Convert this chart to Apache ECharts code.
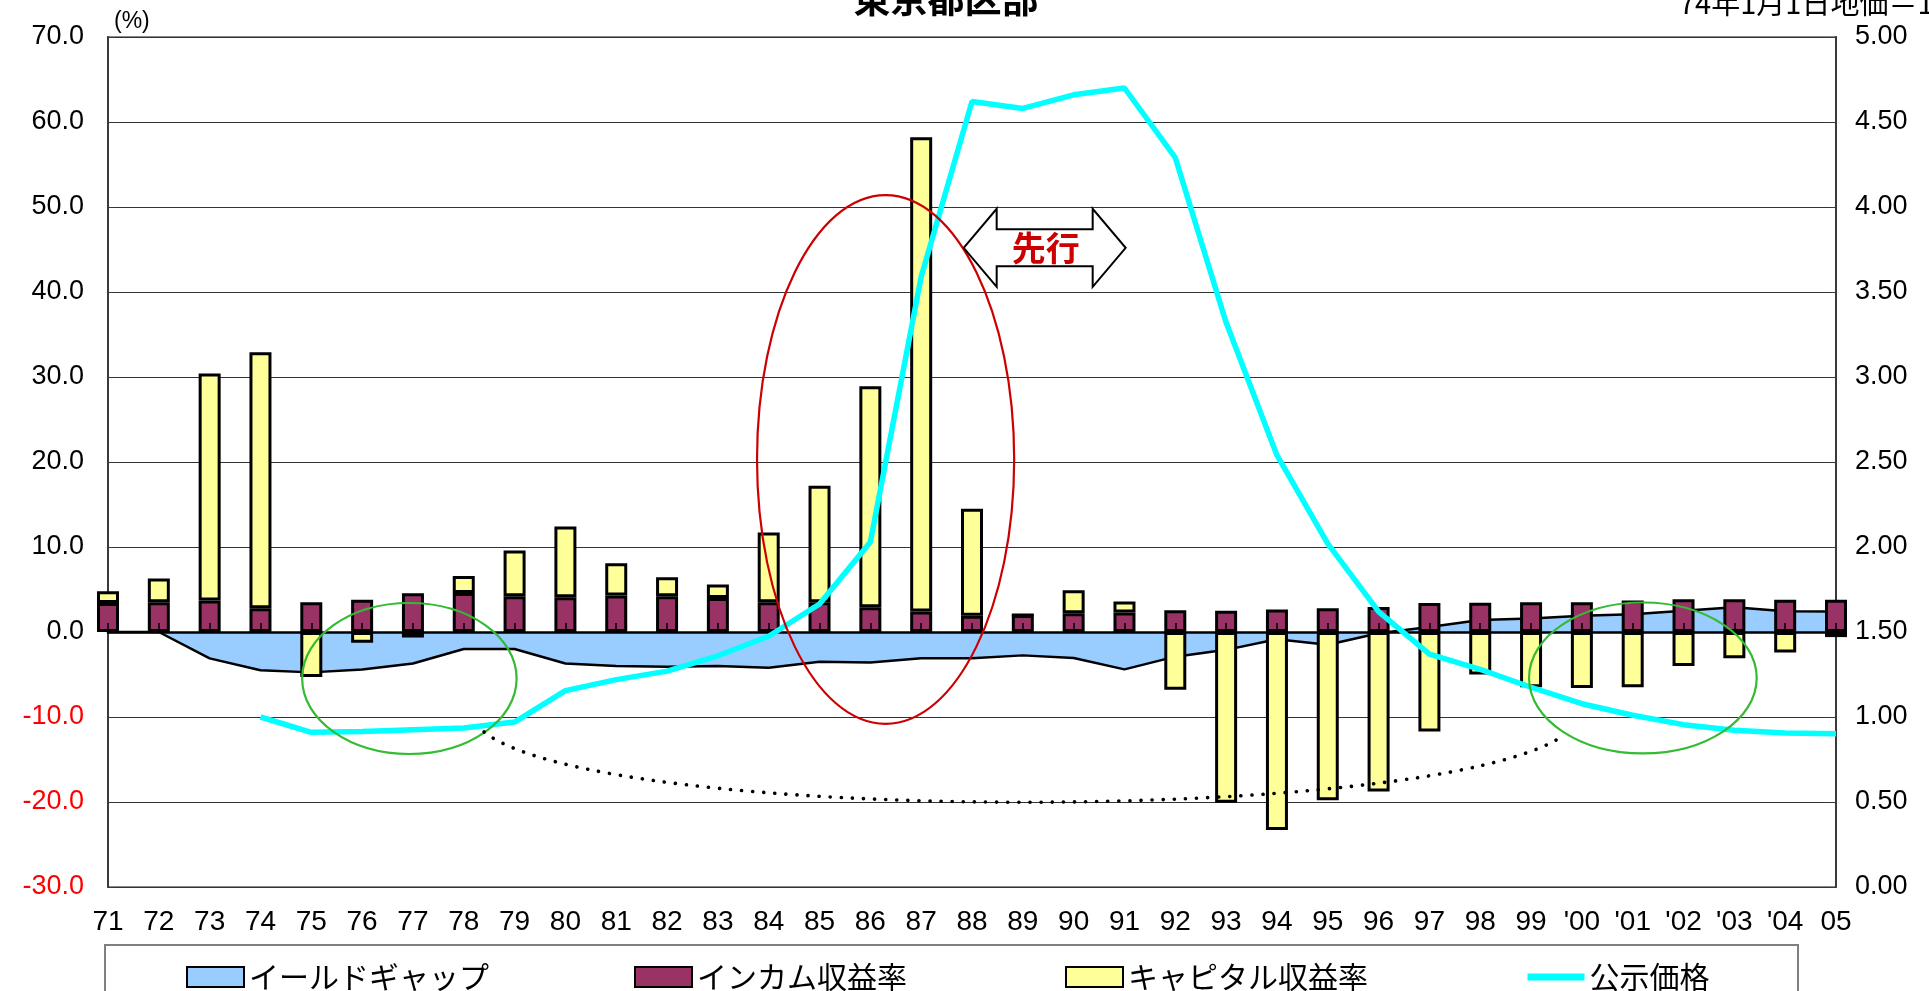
<!DOCTYPE html>
<html>
<head>
<meta charset="utf-8">
<title>東京都区部 イールドギャップと公示価格</title>
<script src="https://cdn.jsdelivr.net/npm/echarts@6/dist/echarts.min.js"></script>
<style>
  html, body { margin: 0; padding: 0; background: #ffffff; }
  #chart { width: 1929px; height: 991px; }
</style>
</head>
<body>
<div id="chart"></div>
<script>
// Years on the horizontal axis
const years = ['71','72','73','74','75','76','77','78','79','80',
               '81','82','83','84','85','86','87','88','89','90',
               '91','92','93','94','95','96','97','98','99',"'00",
               "'01","'02","'03","'04",'05'];

// Yield gap (%), drawn as a filled area on the left axis
const yieldGap = [0, 0, -3.1, -4.5, -4.75, -4.4, -3.7, -2.0, -2.0, -3.7,
                  -4.0, -4.1, -4.0, -4.2, -3.5, -3.6, -3.1, -3.1, -2.75, -3.05,
                  -4.4, -2.9, -2.1, -0.85, -1.5, -0.15, 0.6, 1.4, 1.6, 1.9,
                  2.1, 2.5, 2.9, 2.45, 2.4];

// Income return (%)
const incomeReturn = [3.4, 3.5, 3.7, 2.8, 3.5, 3.8, 4.55, 4.6, 4.2, 4.1,
                      4.3, 4.2, 4.0, 3.5, 3.5, 2.9, 2.4, 1.9, 2.0, 2.2,
                      2.3, 2.55, 2.5, 2.65, 2.8, 2.95, 3.4, 3.45, 3.5, 3.5,
                      3.7, 3.85, 3.85, 3.8, 3.8];

// Capital return (%)
const capitalReturn = [1.4, 2.8, 26.7, 30.1, -5.3, -1.25, -0.65, 2.0, 5.4, 8.3,
                       3.8, 2.25, 1.6, 8.2, 13.7, 26.0, 55.8, 12.6, 0, 2.7,
                       1.3, -6.8, -20.1, -23.3, -19.8, -18.75, -11.7, -5.0, -6.5, -6.6,
                       -6.5, -4.0, -3.1, -2.4, -0.6];

// Published land price index (1 Jan 1974 = 1), right axis
const landPriceIndex = [null, null, null, 1.00, 0.91, 0.915, 0.925, 0.935, 0.97, 1.155,
                        1.22, 1.27, 1.36, 1.475, 1.665, 2.03, 3.59, 4.62, 4.58, 4.66,
                        4.70, 4.29, 3.32, 2.54, 2.02, 1.62, 1.37, 1.28, 1.175, 1.078,
                        1.01, 0.955, 0.922, 0.906, 0.902];

// Axis ranges
const pctMin = -30, pctMax = 70, pctStep = 10;
const idxMin = 0, idxMax = 5, idxStep = 0.5;

const numFont = "'Liberation Sans Narrow', 'Liberation Sans', Arial, sans-serif";
const jpFont = "'Noto Sans CJK JP', 'Noto Sans CJK SC', sans-serif";

const chart = echarts.init(document.getElementById('chart'), null, { renderer: 'canvas' });

// One legend block per entry so each sits in its own column of the key box
function legendAt(left, entry) {
  return {
    left: left, top: 962, padding: 0,
    itemWidth: 57, itemHeight: 20, itemGap: 0,
    textStyle: { fontFamily: jpFont, fontSize: 30, color: '#000000', padding: [0, 0, 0, 0] },
    data: [entry]
  };
}

const option = {
  animation: false,
  backgroundColor: '#ffffff',
  grid: {
    left: 108, right: 93, top: 37, bottom: 104,
    show: true, borderColor: '#8a8a8a', borderWidth: 2, backgroundColor: 'transparent'
  },
  legend: [
    legendAt(186, { name: 'イールドギャップ', icon: 'rect',
                    itemStyle: { color: '#99CCFF', borderColor: '#000000', borderWidth: 2 } }),
    legendAt(634, { name: 'インカム収益率', icon: 'rect',
                    itemStyle: { color: '#993366', borderColor: '#000000', borderWidth: 2 } }),
    legendAt(1065, { name: 'キャピタル収益率', icon: 'rect',
                     itemStyle: { color: '#FFFF99', borderColor: '#000000', borderWidth: 2 } }),
    legendAt(1524, { name: '公示価格',
                     lineStyle: { color: '#00FFFF', width: 7 },
                     itemStyle: { color: 'rgba(0,0,0,0)', borderColor: 'rgba(0,0,0,0)', borderWidth: 0, opacity: 0 } })
  ],
  xAxis: [
    {
      type: 'category', data: years, boundaryGap: false, position: 'bottom',
      axisLine: { show: false, onZero: false },
      axisTick: { show: false },
      axisLabel: { interval: 0, margin: 21, fontSize: 28, fontFamily: numFont, color: '#000000' },
      splitLine: { show: false }
    },
    {
      type: 'category', data: years, boundaryGap: false, position: 'bottom', z: 3,
      axisLine: { show: true, onZero: true, onZeroAxisIndex: 0, lineStyle: { color: '#000000', width: 2.5 } },
      axisTick: { show: true, inside: true, length: 9, interval: 0, lineStyle: { color: '#000000', width: 1.5 } },
      axisLabel: { show: false },
      splitLine: { show: false }
    }
  ],
  yAxis: [
    {
      type: 'value', min: pctMin, max: pctMax, interval: pctStep, position: 'left',
      axisLine: { show: true, lineStyle: { color: '#3a3a3a', width: 2 } },
      axisTick: { show: true, inside: true, length: 6, lineStyle: { color: '#3a3a3a' } },
      axisLabel: {
        margin: 24, fontSize: 27, fontFamily: numFont,
        formatter: v => Number(v).toFixed(1),
        color: v => (Number(v) < 0 ? '#FF0000' : '#000000')
      },
      splitLine: { show: true, lineStyle: { color: '#333333', width: 1 } }
    },
    {
      type: 'value', min: idxMin, max: idxMax, interval: idxStep, position: 'right',
      axisLine: { show: true, lineStyle: { color: '#3a3a3a', width: 2 } },
      axisTick: { show: true, inside: true, length: 6, lineStyle: { color: '#3a3a3a' } },
      axisLabel: {
        margin: 19, fontSize: 27, fontFamily: numFont, color: '#000000',
        formatter: v => Number(v).toFixed(2)
      },
      splitLine: { show: false }
    }
  ],
  series: [
    {
      name: 'イールドギャップ', type: 'line', xAxisIndex: 0, yAxisIndex: 0,
      data: yieldGap, symbol: 'none', z: 1,
      itemStyle: { color: '#99CCFF' },
      lineStyle: { color: '#000000', width: 2.5 },
      areaStyle: { color: '#99CCFF', opacity: 1 }
    },
    {
      name: 'インカム収益率', type: 'bar', stack: 'returns', xAxisIndex: 0, yAxisIndex: 0,
      data: incomeReturn, barWidth: 22, z: 2, clip: true,
      itemStyle: { color: '#993366', borderColor: '#000000', borderWidth: 3 }
    },
    {
      name: 'キャピタル収益率', type: 'bar', stack: 'returns', xAxisIndex: 0, yAxisIndex: 0,
      data: capitalReturn, barWidth: 22, z: 2, clip: true,
      itemStyle: { color: '#FFFF99', borderColor: '#000000', borderWidth: 3 }
    },
    {
      name: '公示価格', type: 'line', xAxisIndex: 0, yAxisIndex: 1,
      data: landPriceIndex, symbol: 'none', z: 4,
      itemStyle: { color: '#00FFFF' },
      lineStyle: { color: '#00FFFF', width: 5.5 }
    }
  ]
};

chart.setOption(option);

// Place annotations from data-space anchors (category index, left-axis value)
function toPx(ix, v) {
  const i0 = Math.floor(ix), f = ix - i0;
  const a = chart.convertToPixel({ xAxisIndex: 0, yAxisIndex: 0 }, [i0, v]);
  const b = chart.convertToPixel({ xAxisIndex: 0, yAxisIndex: 0 }, [i0 + 1, v]);
  return [a[0] + (b[0] - a[0]) * f, a[1]];
}
const p00 = toPx(0, 0), p11 = toPx(1, 1);
const catW = p11[0] - p00[0];
const unitH = p00[1] - p11[1];

function ellipseAt(ix, v, rCat, rVal, color) {
  const c = toPx(ix, v);
  return {
    type: 'ellipse', z: 20, silent: true,
    shape: { cx: c[0], cy: c[1], rx: rCat * catW, ry: rVal * unitH },
    style: { fill: 'none', stroke: color, lineWidth: 2.2 }
  };
}

const arrowC = toPx(18.43, 45.2);
const L = 81, head = 33, H = 39, S = 18.5;
const ax = arrowC[0], ay = arrowC[1];
const arrowPts = [
  [ax - L, ay], [ax - L + head, ay - H], [ax - L + head, ay - S], [ax + L - head, ay - S],
  [ax + L - head, ay - H], [ax + L, ay], [ax + L - head, ay + H], [ax + L - head, ay + S],
  [ax - L + head, ay + S], [ax - L + head, ay + H]
];

const q0 = toPx(7.40, -11.76), q1 = toPx(9.69, -22.7), q2 = toPx(26.02, -22.7), q3 = toPx(28.62, -12.24);

chart.setOption({
  graphic: [
    {
      type: 'text', z: 30, silent: true, x: 946, y: 17,
      style: { text: '東京都区部', fontFamily: jpFont, fontSize: 37, fontWeight: 'bold',
               fill: '#000000', align: 'center', verticalAlign: 'bottom' }
    },
    {
      type: 'text', z: 30, silent: true, x: 1679, y: 17,
      style: { text: '74年1月1日地価＝1', fontFamily: jpFont, fontSize: 29,
               fill: '#000000', align: 'left', verticalAlign: 'bottom' }
    },
    {
      type: 'text', z: 30, silent: true, x: 114, y: 22,
      style: { text: '(%)', fontFamily: numFont, fontSize: 23,
               fill: '#000000', align: 'left', verticalAlign: 'middle' }
    },
    {
      type: 'rect', z: 0, silent: true,
      shape: { x: 105, y: 945, width: 1693, height: 80 },
      style: { fill: 'none', stroke: '#808080', lineWidth: 2 }
    },
    ellipseAt(15.3, 20.3, 2.53, 31.1, '#CC0000'),
    ellipseAt(5.93, -5.47, 2.11, 8.88, '#33BB33'),
    ellipseAt(30.2, -5.41, 2.24, 8.88, '#33BB33'),
    {
      type: 'bezierCurve', z: 20, silent: true,
      shape: { x1: q0[0], y1: q0[1], cpx1: q1[0], cpy1: q1[1], cpx2: q2[0], cpy2: q2[1], x2: q3[0], y2: q3[1] },
      style: { fill: 'none', stroke: '#000000', lineWidth: 3.6, lineDash: [0.1, 11], lineCap: 'round' }
    },
    {
      type: 'polygon', z: 25, silent: true,
      shape: { points: arrowPts },
      style: { fill: '#ffffff', stroke: '#000000', lineWidth: 2 }
    },
    {
      type: 'text', z: 26, silent: true, x: ax + 1, y: ay,
      style: { text: '先行', fontFamily: jpFont, fontSize: 34, fontWeight: 'bold',
               fill: '#CC0000', align: 'center', verticalAlign: 'middle' }
    }
  ]
});
</script>
</body>
</html>
